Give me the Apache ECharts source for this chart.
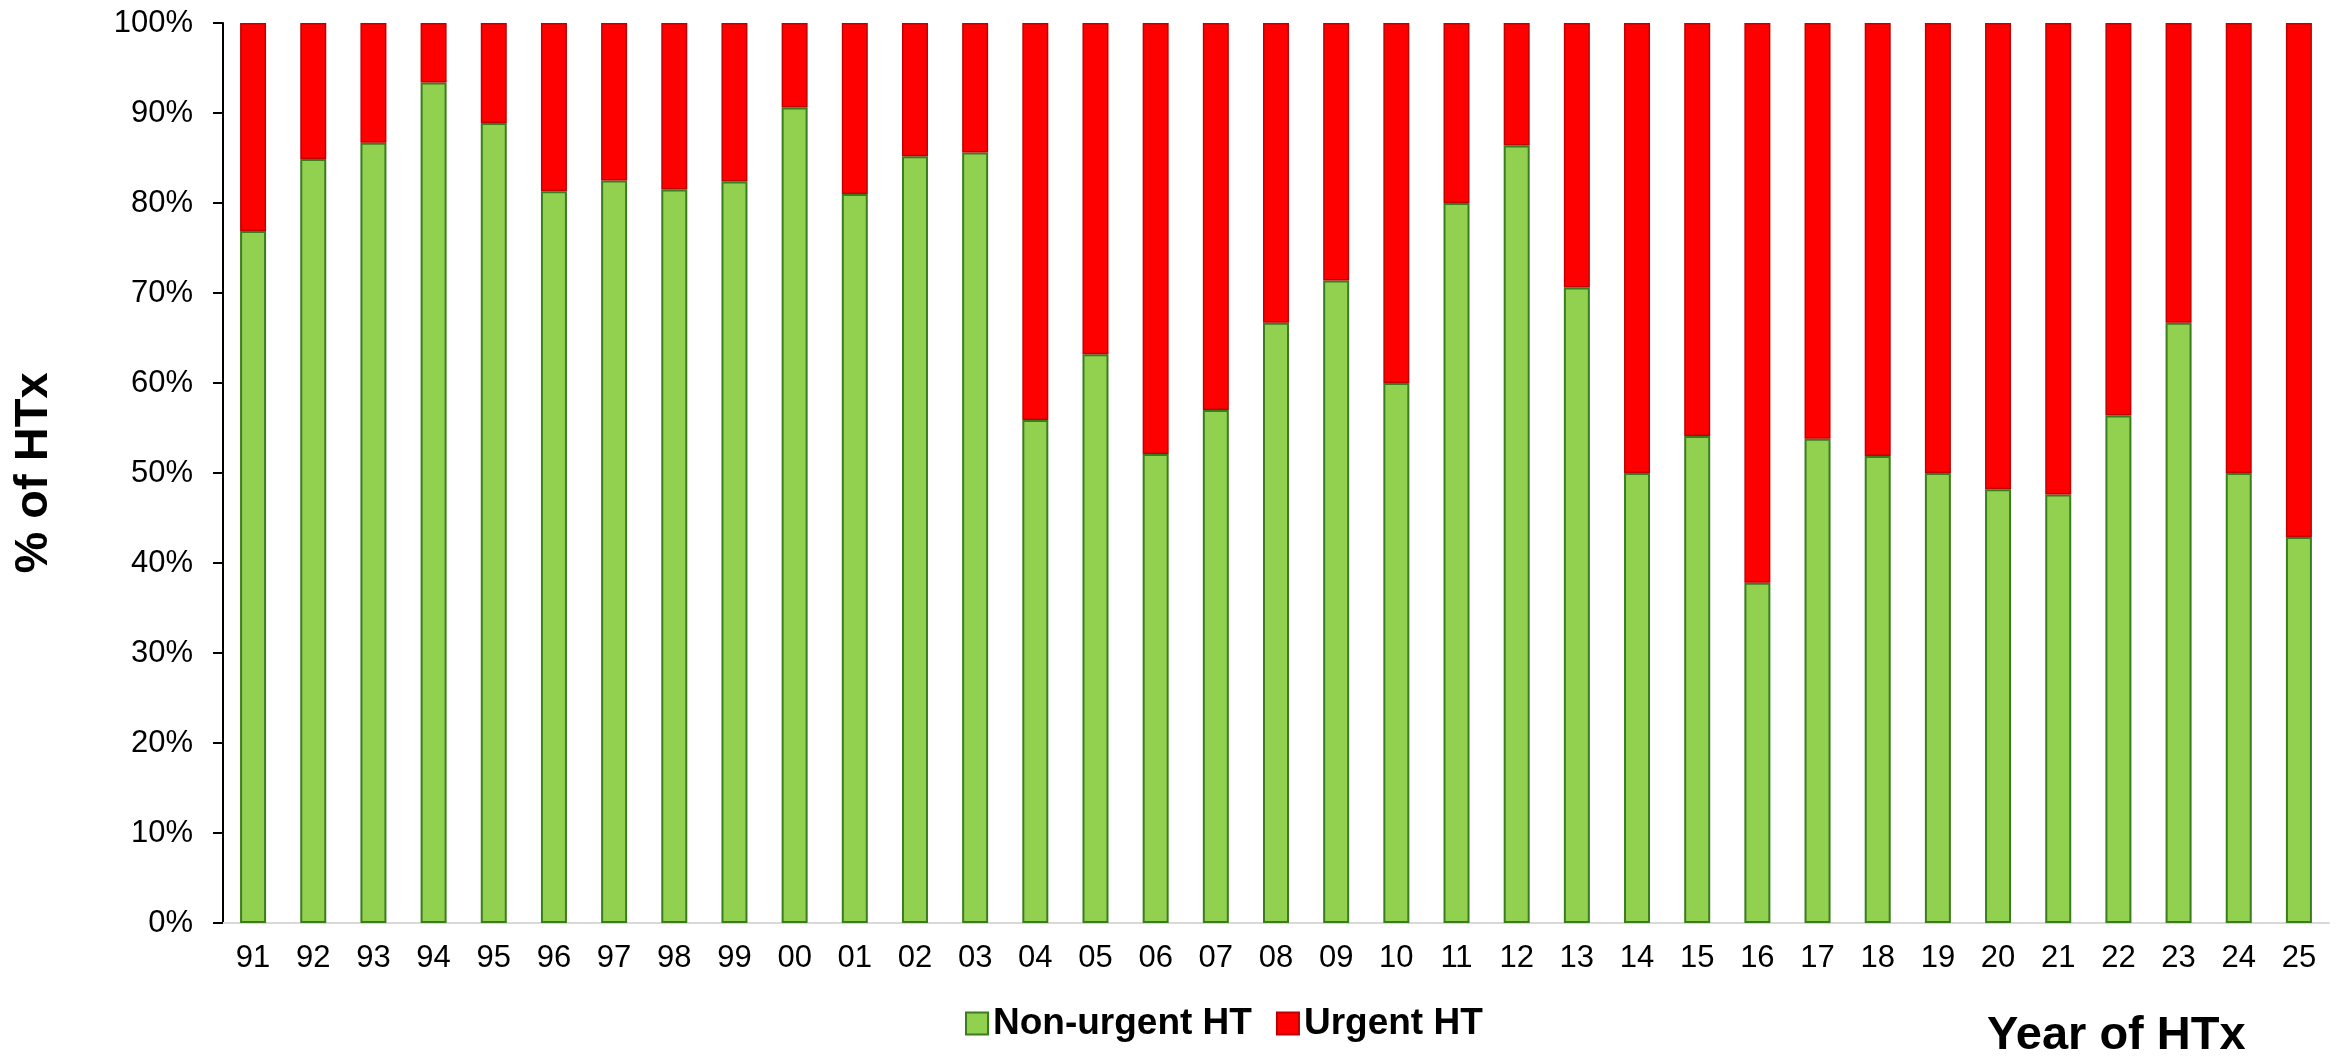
<!DOCTYPE html>
<html lang="en">
<head>
    <meta charset="UTF-8">
    <title>Urgent vs non-urgent HTx</title>
    <script src="https://cdn.jsdelivr.net/npm/echarts@6/dist/echarts.min.js"></script>
    <style>
        html, body { margin: 0; padding: 0; background: #fff; }
    </style>
</head>
<body>
    <div id="main" style="width: 2349px;height:1062px;"></div>
    <script type="text/javascript">
        // data
        var years = ['91','92','93','94','95','96','97','98','99','00','01','02','03','04','05','06','07','08',
                     '09','10','11','12','13','14','15','16','17','18','19','20','21','22','23','24','25'];
        var nonUrgent = [76.9, 84.9, 86.7, 93.4, 88.9, 81.3, 82.5, 81.5, 82.4, 90.6, 81.0, 85.2, 85.6, 55.9,
                         63.2, 52.1, 57.0, 66.7, 71.4, 60.0, 80.0, 86.4, 70.6, 50.0, 54.1, 37.8, 53.8, 51.9,
                         50.0, 48.2, 47.6, 56.4, 66.7, 50.0, 42.9];
        var urgent = [23.1, 15.1, 13.3, 6.6, 11.1, 18.7, 17.5, 18.5, 17.6, 9.4, 19.0, 14.8, 14.4, 44.1,
                      36.8, 47.9, 43.0, 33.3, 28.6, 40.0, 20.0, 13.6, 29.4, 50.0, 45.9, 62.2, 46.2, 48.1,
                      50.0, 51.8, 52.4, 43.6, 33.3, 50.0, 57.1];
        var yTicks = [0, 10, 20, 30, 40, 50, 60, 70, 80, 90, 100];

        var font = "'Liberation Sans', Arial, sans-serif";
        var myChart = echarts.init(document.getElementById('main'));

        var option = {
            backgroundColor: '#fff',
            textStyle: { fontFamily: font },
            animation: false,
            title: {
                text: 'Year of HTx',
                left: 1982,
                top: 1008,
                textStyle: { fontFamily: font, fontSize: 47, fontWeight: 'bold', color: '#000' }
            },
            legend: {
                data: ['Non-urgent HT', 'Urgent HT'],
                left: 960,
                top: 1000,
                icon: 'rect',
                itemWidth: 22,
                itemHeight: 22,
                itemGap: 24,
                textStyle: { fontFamily: font, fontSize: 37, fontWeight: 'bold', color: '#000' }
            },
            grid: {
                left: 223,
                right: 20,
                top: 23,
                bottom: 139,
                containLabel: false
            },
            xAxis: {
                type: 'category',
                data: years,
                axisLine: { lineStyle: { color: '#d9d9d9', width: 2 } },
                axisTick: { show: false },
                axisLabel: { color: '#000', fontSize: 31, margin: 20, fontFamily: font }
            },
            yAxis: {
                type: 'value',
                min: yTicks[0],
                max: yTicks[yTicks.length - 1],
                interval: 10,
                name: '% of HTx',
                nameLocation: 'middle',
                nameGap: 165,
                nameTextStyle: { fontFamily: font, fontSize: 47, fontWeight: 'bold', color: '#000' },
                axisLine: { show: true, lineStyle: { color: '#000', width: 2 } },
                axisTick: { show: true, length: 10, lineStyle: { color: '#000', width: 2 } },
                axisLabel: { color: '#000', fontSize: 31, margin: 30, formatter: '{value}%', fontFamily: font },
                splitLine: { show: false }
            },
            series: [{
                name: 'Non-urgent HT',
                type: 'bar',
                stack: 'total',
                barWidth: 26,
                data: nonUrgent,
                itemStyle: { color: '#92d050', borderColor: '#3a7d1e', borderWidth: 2 }
            }, {
                name: 'Urgent HT',
                type: 'bar',
                stack: 'total',
                barWidth: 26,
                data: urgent,
                itemStyle: { color: '#ff0000', borderColor: '#c00000', borderWidth: 1.5 }
            }]
        };

        myChart.setOption(option);
    </script>
</body>
</html>
